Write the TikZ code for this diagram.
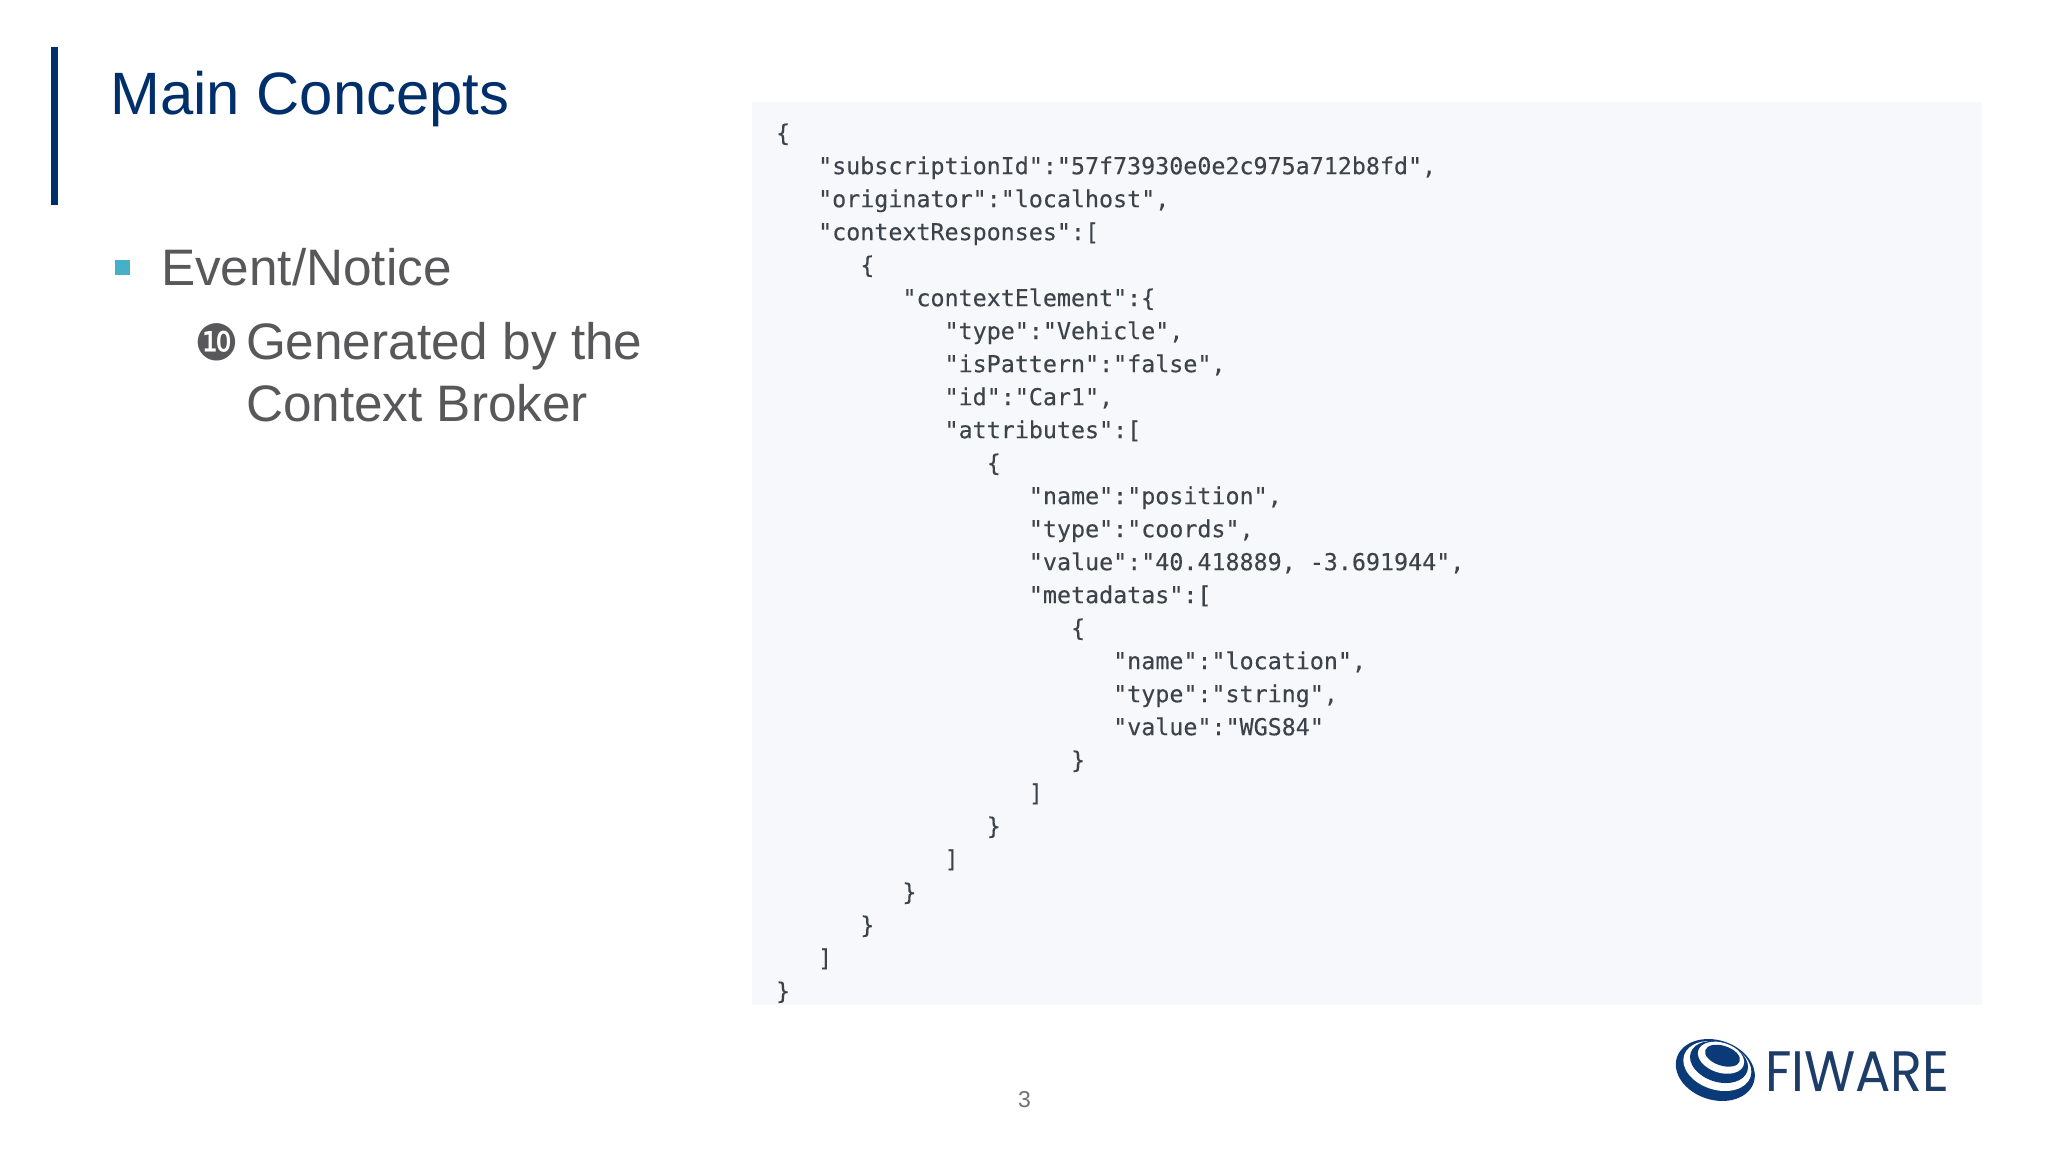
\documentclass[tikz,border=0pt]{standalone}
\usepackage{fontspec}
\setmainfont{Liberation Sans}
\newfontfamily\codefont[FakeBold=0.25]{DejaVu Sans Mono}
\newfontfamily\symfont{DejaVu Sans}
\newfontfamily\logofont{Poppins}
\definecolor{navy}{HTML}{002F6C}
\definecolor{bodygray}{HTML}{58585A}
\definecolor{teal}{HTML}{45B1C9}
\definecolor{panelbg}{HTML}{F6F8FB}
\definecolor{codeink}{HTML}{3D434B}
\definecolor{logoblue}{HTML}{0B3A78}
\definecolor{logoink}{HTML}{1D3D68}
\newcommand{\I}[1]{\hspace*{\dimexpr #1\dimexpr 14.05pt\relax\relax}}
\tikzset{
  txt/.style={anchor=base west,inner sep=0pt,outer sep=0pt},
  titletxt/.style={txt,text=navy,font=\fontsize{59.8}{70}\selectfont},
  bodytxt/.style={txt,text=bodygray,font=\fontsize{51.3}{62}\selectfont},
  codetxt/.style={txt,align=left,text=codeink,font=\codefont\fontsize{23.33}{33}\selectfont},
  logodark/.style={fill=logoblue,draw=none},
  logolight/.style={fill=white,draw=none}
}
\begin{document}
\begin{tikzpicture}[x=1pt,y=-1pt]
\useasboundingbox (0,0) rectangle (2048,1152);
\fill[white] (0,0) rectangle (2048,1152);
% title bar and title
\fill[navy] (51,47) rectangle (58,205);
\node[titletxt] (title) at (110.5,114) {Main Concepts};
% bullets
\fill[teal] (115,260) rectangle (130,275);
\node[bodytxt] (event) at (161,285.5) {Event/Notice};
\node[txt,text=bodygray,font=\symfont\fontsize{50}{50}\selectfont] (ten) at (194.5,360) {❿};
\node[bodytxt] (gen) at (246,359) {Generated by the};
\node[bodytxt] (ctx) at (246,421) {Context Broker};
% code panel
\fill[panelbg] (752,102) rectangle (1982,1005);
\node[codetxt] (code) at (776,999.2) {%
\{\\
\I{3}"subscriptionId":"57f73930e0e2c975a712b8fd",\\
\I{3}"originator":"localhost",\\
\I{3}"contextResponses":[\\
\I{6}\{\\
\I{9}"contextElement":\{\\
\I{12}"type":"Vehicle",\\
\I{12}"isPattern":"false",\\
\I{12}"id":"Car1",\\
\I{12}"attributes":[\\
\I{15}\{\\
\I{18}"name":"position",\\
\I{18}"type":"coords",\\
\I{18}"value":"40.418889, -3.691944",\\
\I{18}"metadatas":[\\
\I{21}\{\\
\I{24}"name":"location",\\
\I{24}"type":"string",\\
\I{24}"value":"WGS84"\\
\I{21}\}\\
\I{18}]\\
\I{15}\}\\
\I{12}]\\
\I{9}\}\\
\I{6}\}\\
\I{3}]\\
\}};
% page number
\node[txt,text=bodygray!85,font=\fontsize{23}{28}\selectfont] (page) at (1018,1107) {3};
% logo
\fill[logodark,rotate around={-18:(1715.3,1070)}] (1715.3,1070) ellipse [x radius=40.4,y radius=29.8];
\fill[logolight,rotate around={-18:(1717.3,1066)}] (1717.3,1066) ellipse [x radius=34.9,y radius=23.7];
\fill[logodark,rotate around={-18:(1719,1062)}] (1719,1062) ellipse [x radius=29.8,y radius=19.9];
\fill[logolight,rotate around={-18:(1721,1057.7)}] (1721,1057.7) ellipse [x radius=23.8,y radius=15];
\fill[logodark,rotate around={-18:(1722.5,1055.7)}] (1722.5,1055.7) ellipse [x radius=18.1,y radius=9.9];
\node[txt,text=logoink,font=\logofont\fontsize{57}{60}\selectfont,xscale=0.92] (logo) at (1765,1091) {FIWARE};
\end{tikzpicture}
\end{document}
